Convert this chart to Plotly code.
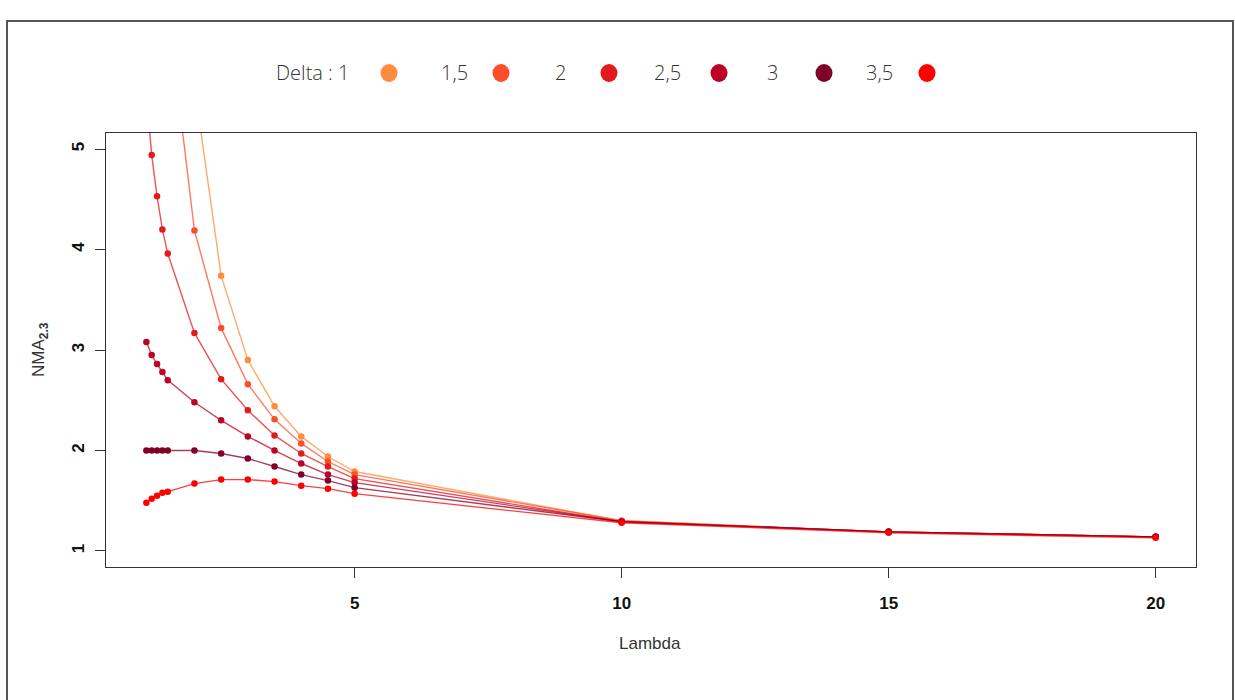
import plotly.graph_objects as go

lambdas = [1.1, 1.2, 1.3, 1.4, 1.5, 2, 2.5, 3, 3.5, 4, 4.5, 5, 10, 15, 20]

delta_labels = ["1", "1,5", "2", "2,5", "3", "3,5"]
delta_colors = ["#FD8D3C", "#FC4E2A", "#E31A1C", "#BD0026", "#800026", "#FF0000"]

nma_d1 = [14.5, 12.4, 10.8, 9.6, 8.6, 5.63, 3.74, 2.90, 2.44, 2.14, 1.94, 1.79, 1.30, 1.19, 1.14]
nma_d15 = [9.0, 8.2, 7.5, 6.9, 6.4, 4.19, 3.22, 2.66, 2.31, 2.07, 1.89, 1.76, 1.30, 1.19, 1.14]
nma_d2 = [5.55, 4.94, 4.53, 4.20, 3.96, 3.17, 2.71, 2.40, 2.15, 1.97, 1.84, 1.72, 1.29, 1.19, 1.14]
nma_d25 = [3.08, 2.95, 2.86, 2.78, 2.70, 2.48, 2.30, 2.14, 2.00, 1.87, 1.76, 1.68, 1.29, 1.19, 1.14]
nma_d3 = [2.00, 2.00, 2.00, 2.00, 2.00, 2.00, 1.97, 1.92, 1.84, 1.76, 1.70, 1.63, 1.29, 1.19, 1.14]
nma_d35 = [1.48, 1.52, 1.55, 1.58, 1.59, 1.67, 1.71, 1.71, 1.69, 1.65, 1.62, 1.57, 1.28, 1.18, 1.13]

series = [nma_d1, nma_d15, nma_d2, nma_d25, nma_d3, nma_d35]

x_ticks = [5, 10, 15, 20]
y_ticks = [1, 2, 3, 4, 5]

W, H = 1235, 700
ML, MR, MT, MB = 106, 39, 133, 133
PW = W - ML - MR
PH = H - MT - MB


def px_x(p):
    return (p - ML) / PW


def px_y(p):
    return (H - MB - p) / PH


def hex_rgba(h, a):
    h = h.lstrip("#")
    return "rgba(%d,%d,%d,%.2f)" % (int(h[0:2], 16), int(h[2:4], 16), int(h[4:6], 16), a)


fig = go.Figure()
for vals, col, lab in zip(series, delta_colors, delta_labels):
    fig.add_trace(go.Scatter(
        x=lambdas, y=vals, mode="lines", name=lab, showlegend=False,
        line=dict(color=hex_rgba(col, 0.75), width=1.4),
        hoverinfo="skip",
    ))
for vals, col, lab in zip(series, delta_colors, delta_labels):
    fig.add_trace(go.Scatter(
        x=lambdas, y=vals, mode="markers", name=lab, showlegend=False,
        marker=dict(color=col, size=6.5, line=dict(width=0)),
    ))

axis_font = dict(family="Liberation Sans, Arial", size=17, color="#111", weight="bold")

fig.update_xaxes(
    range=[0.344, 20.756], tickvals=x_ticks, ticktext=[str(v) for v in x_ticks],
    ticks="outside", ticklen=10, tickcolor="#333", tickwidth=1,
    showline=True, mirror=True, linecolor="#333", linewidth=1,
    showgrid=False, zeroline=False, tickfont=axis_font, ticklabelstandoff=11,
)
fig.update_yaxes(
    range=[0.84, 5.16], tickvals=y_ticks, ticktext=[str(v) for v in y_ticks],
    ticks="outside", ticklen=10, tickcolor="#333", tickwidth=1,
    showline=True, mirror=True, linecolor="#333", linewidth=1,
    showgrid=False, zeroline=False, tickfont=axis_font, tickangle=-90,
    ticklabelstandoff=4,
)

annotations = [
    dict(text="Lambda", x=px_x(650), y=px_y(643), xref="paper", yref="paper",
         xanchor="center", yanchor="middle",
         showarrow=False, font=dict(family="Liberation Sans, Arial", size=17, color="#333")),
    dict(text="NMA<sub><b>2.3</b></sub>", x=px_x(40), y=px_y(350), xref="paper", yref="paper",
         xanchor="center", yanchor="middle",
         showarrow=False, textangle=-90,
         font=dict(family="Liberation Sans, Arial", size=17, color="#333")),
]

shapes = [
    dict(type="rect", xref="paper", yref="paper",
         x0=px_x(7), x1=px_x(1233), y0=px_y(710), y1=px_y(21),
         line=dict(color="#555", width=2), fillcolor="rgba(0,0,0,0)", layer="below"),
]

# custom legend (text followed by dot, as in the reference)
legend_text_right = [352, 470, 568, 683, 780, 895]
legend_dot_x = [389, 501, 609, 719, 824, 927]
legend_y = 73
for i, (lab, col) in enumerate(zip(delta_labels, delta_colors)):
    txt = ("Delta : " + lab) if i == 0 else lab
    annotations.append(dict(
        text=txt, x=px_x(legend_text_right[i]), y=px_y(legend_y), xref="paper", yref="paper",
        xanchor="right", yanchor="middle", showarrow=False,
        font=dict(family="Open Sans", size=20, color="#333", weight=300),
    ))
    shapes.append(dict(
        type="circle", xref="paper", yref="paper", xsizemode="pixel", ysizemode="pixel",
        xanchor=px_x(legend_dot_x[i]), yanchor=px_y(legend_y),
        x0=-8.5, x1=8.5, y0=-9, y1=9,
        fillcolor=col, line=dict(width=0),
    ))

fig.update_layout(
    width=W, height=H,
    margin=dict(l=ML, r=MR, t=MT, b=MB),
    plot_bgcolor="white", paper_bgcolor="white",
    annotations=annotations, shapes=shapes,
    showlegend=False,
)

fig.write_html("out.html")
